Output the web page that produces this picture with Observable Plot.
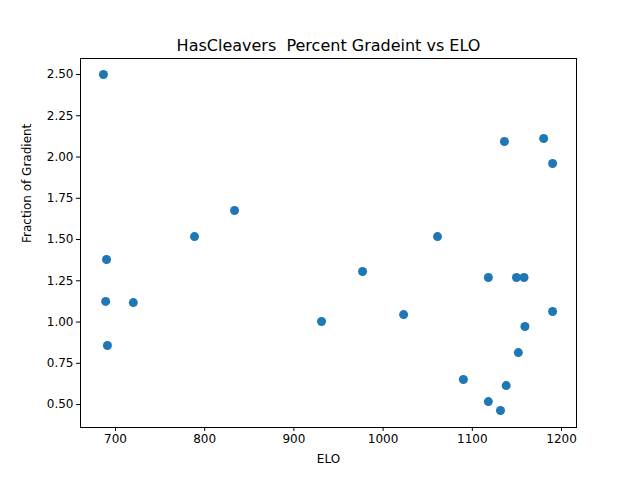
<!DOCTYPE html>
<html><head>
<script src="https://cdn.jsdelivr.net/npm/d3@7"></script>
<script src="https://cdn.jsdelivr.net/npm/@observablehq/plot@0.6"></script>
<style>body{margin:0;background:#fff}</style>
</head><body><div id="chart"></div>
<script>
const elo = [686.5, 690, 689, 691, 720, 788.6, 833.5, 931, 977, 1023, 1061, 1090, 1118, 1118, 1131.6, 1136, 1138, 1149.5, 1151.6, 1158, 1159, 1180, 1190, 1190];
const fraction = [2.50, 1.379, 1.125, 0.858, 1.118, 1.518, 1.676, 1.003, 1.306, 1.045, 1.518, 0.652, 1.27, 0.518, 0.464, 2.094, 0.615, 1.27, 0.815, 1.27, 0.973, 2.112, 1.961, 1.064];
const data = elo.map((e, i) => ({elo: e, frac: fraction[i]}));

const chart = Plot.plot({
  width: 640, height: 480,
  marginLeft: 80, marginRight: 64, marginTop: 58, marginBottom: 53,
  style: {fontFamily: "DejaVu Sans", fontSize: "12px", color: "black", background: "white"},
  x: {domain: [660.8, 1216.8]},
  y: {domain: [0.361, 2.597]},
  marks: [
    Plot.frame({stroke: "black"}),
    Plot.axisX({ticks: [700, 800, 900, 1000, 1100, 1200], tickSize: 4, tickPadding: 3, tickFormat: d3.format("d"), label: null}),
    Plot.axisY({ticks: d3.range(0.5, 2.51, 0.25), tickSize: 4, tickPadding: 3, tickFormat: d3.format(".2f"), label: null}),
    Plot.dot(data, {x: "elo", y: "frac", r: 4.5, fill: "#1f77b4", stroke: "none"}),
    Plot.text(["HasCleavers  Percent Gradeint vs ELO"], {frameAnchor: "top", dy: -8, fontSize: 16, lineAnchor: "bottom"}),
    Plot.text(["ELO"], {frameAnchor: "bottom", dy: 35, fontSize: 12}),
    Plot.text(["Fraction of Gradient"], {frameAnchor: "left", dx: -53, rotate: -90, fontSize: 12})
  ]
});
document.getElementById("chart").append(chart);
</script>
</body></html>
